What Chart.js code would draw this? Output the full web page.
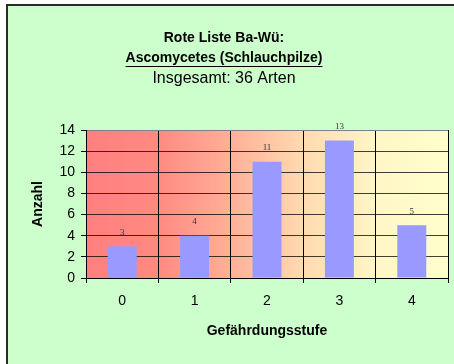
<!DOCTYPE html>
<html>
<head>
<meta charset="utf-8">
<script src="https://cdn.jsdelivr.net/npm/chart.js@4"></script>
<style>
  html, body { margin: 0; padding: 0; background: #fff; overflow: hidden; }
  #frame {
    position: absolute; left: 6px; top: 4px; width: 520px; height: 420px;
    border: 2px solid #2b2b2b; background: #ccffcc;
  }
  #wrap { position: absolute; left: 0; top: 0; width: 454px; height: 364px; }
</style>
</head>
<body>
<div id="frame"></div>
<div id="wrap"><canvas id="chart" width="454" height="364"></canvas></div>
<script>
const categories = ["0", "1", "2", "3", "4"];
const counts = [3, 4, 11, 13, 5];
const titleLines = ["Rote Liste Ba-Wü:", "Ascomycetes (Schlauchpilze)"];
const subtitleText = "Insgesamt: 36 Arten";
const yMax = 14;
const yStep = 2;

const FONT = "Arial, 'Liberation Sans', sans-serif";

// red -> pale yellow wash behind the bars
const plotBackground = {
  id: "plotBackground",
  beforeDraw(chart) {
    const { ctx, chartArea: a } = chart;
    const g = ctx.createLinearGradient(a.left, 0, a.right, 0);
    g.addColorStop(0, "#ff7f7f");
    g.addColorStop(0.2, "#ff8a82");
    g.addColorStop(0.4, "#ffb098");
    g.addColorStop(0.6, "#ffdab0");
    g.addColorStop(0.8, "#fff6c6");
    g.addColorStop(1, "#ffffcc");
    ctx.save();
    ctx.fillStyle = g;
    ctx.fillRect(a.left, a.top, a.right - a.left, a.bottom - a.top);
    ctx.restore();
  },
};

// underline the second title line
const titleUnderline = {
  id: "titleUnderline",
  afterDraw(chart) {
    const tb = chart.titleBlock;
    const opts = chart.options.plugins.title;
    const ctx = chart.ctx;
    ctx.save();
    ctx.font = `bold ${opts.font.size}px ${FONT}`;
    const w = ctx.measureText(titleLines[1]).width;
    const cx = (tb.left + tb.right) / 2;
    const y = tb.top + opts.padding.top + 20 * 1.5 + 8.5;
    ctx.strokeStyle = "#000";
    ctx.lineWidth = 1;
    ctx.beginPath();
    ctx.moveTo(cx - w / 2, y);
    ctx.lineTo(cx + w / 2, y);
    ctx.stroke();
    ctx.restore();
  },
};

// value labels above each bar
const barValues = {
  id: "barValues",
  afterDatasetsDraw(chart) {
    const { ctx } = chart;
    const meta = chart.getDatasetMeta(0);
    ctx.save();
    ctx.font = "9px 'Liberation Serif', 'Times New Roman', serif";
    ctx.fillStyle = "#333";
    ctx.textAlign = "center";
    ctx.textBaseline = "middle";
    meta.data.forEach((bar, i) => {
      ctx.fillText(String(counts[i]), bar.x, bar.y - 14);
    });
    ctx.restore();
  },
};

new Chart(document.getElementById("chart"), {
  type: "bar",
  data: {
    labels: categories,
    datasets: [{
      data: counts,
      backgroundColor: "#9999ff",
      borderWidth: 0,
      categoryPercentage: 1,
      barPercentage: 0.4,
    }],
  },
  plugins: [plotBackground, titleUnderline, barValues],
  options: {
    responsive: false,
    animation: false,
    layout: { padding: { left: 0, right: 6, top: 0, bottom: 0 } },
    plugins: {
      legend: { display: false },
      tooltip: { enabled: false },
      title: {
        display: true,
        text: titleLines,
        color: "#000",
        font: { family: FONT, size: 14, weight: "bold", lineHeight: "20px" },
        padding: { top: 28, bottom: 1 },
      },
      subtitle: {
        display: true,
        text: subtitleText,
        color: "#000",
        font: { family: FONT, size: 16, weight: "normal", lineHeight: "20px" },
        padding: { top: 0, bottom: 41 },
      },
    },
    scales: {
      x: {
        afterFit(scale) { scale.height = 86; },
        grid: {
          offset: true,
          color: (c) => (c.index === categories.length ? "#808080" : "#000"),
          tickLength: 5,
          tickColor: "#000",
        },
        border: { color: "#000", width: 1 },
        ticks: { color: "#000", font: { family: FONT, size: 14 }, padding: 10 },
        title: {
          display: true,
          text: "Gefährdungsstufe",
          color: "#000",
          font: { family: FONT, size: 14, weight: "bold" },
          padding: { top: 4, bottom: 24 },
        },
      },
      y: {
        min: 0,
        max: yMax,
        afterFit(scale) { scale.width = 86; },
        grid: {
          color: (c) => (c.tick.value === yMax ? "#808080" : "rgba(0,0,0,0.75)"),
          tickLength: 5,
          tickColor: "#000",
        },
        border: { color: "#000", width: 1 },
        ticks: { stepSize: yStep, color: "#000", font: { family: FONT, size: 14 }, padding: 6 },
        title: {
          display: true,
          text: "Anzahl",
          color: "#000",
          font: { family: FONT, size: 14, weight: "bold" },
          padding: { top: 30, bottom: 0 },
        },
      },
    },
  },
});
</script>
</body>
</html>
